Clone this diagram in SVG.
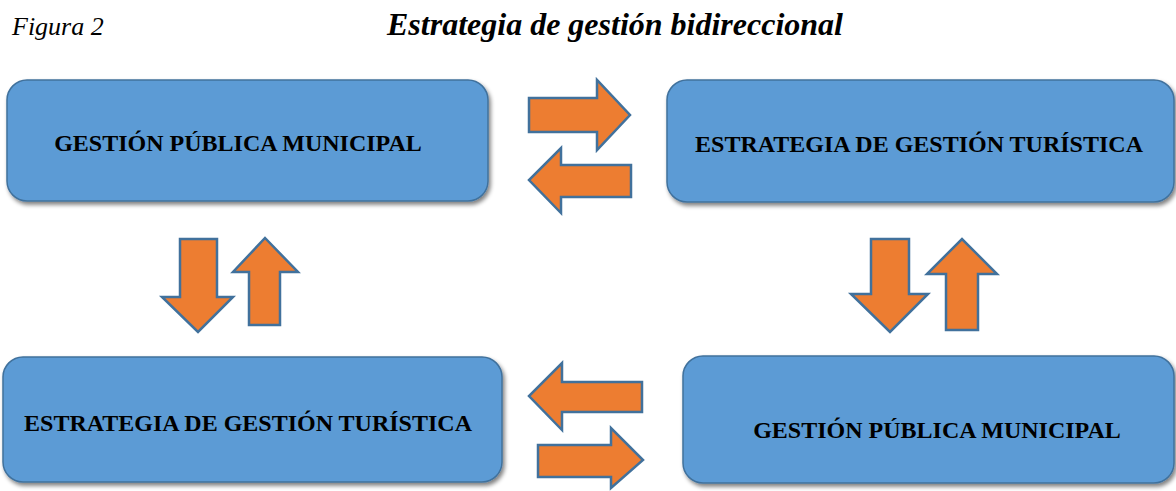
<svg xmlns="http://www.w3.org/2000/svg" width="1176" height="491" viewBox="0 0 1176 491">
<style>
.box{fill:#5b9bd5;stroke:#41719c;stroke-width:1.5;filter:url(#sh)}
.lbl{font-family:"Liberation Serif","Times New Roman",serif;font-weight:bold;font-size:24px;fill:#000;text-anchor:middle}
.arr{fill:#ed7d31;stroke:#41719c;stroke-width:2.5;stroke-linejoin:miter}
.title{font-family:"Liberation Serif","Times New Roman",serif;fill:#000}
</style>
<defs>
<filter id="sh" x="-5%" y="-10%" width="112%" height="125%">
<feGaussianBlur in="SourceAlpha" stdDeviation="2"/>
<feOffset dx="2" dy="3" result="b"/>
<feComponentTransfer><feFuncA type="linear" slope="0.5"/></feComponentTransfer>
<feMerge><feMergeNode/><feMergeNode in="SourceGraphic"/></feMerge>
</filter>
</defs>
<rect width="1176" height="491" fill="#fff"/>
<text class="title" x="12" y="35" font-style="italic" font-size="26">Figura 2</text>
<text class="title" x="387" y="35" font-style="italic" font-weight="bold" font-size="32">Estrategia de gestión bidireccional</text>

<g id="node-gpm-top">
<rect class="box" x="7" y="80" width="481" height="121" rx="20"/>
<text class="lbl" x="238" y="151">GESTIÓN PÚBLICA MUNICIPAL</text>
</g>
<g id="node-egt-top">
<rect class="box" x="667" y="80" width="507" height="122" rx="20"/>
<text class="lbl" x="919" y="152">ESTRATEGIA DE GESTIÓN TURÍSTICA</text>
</g>
<g id="node-egt-bottom">
<rect class="box" x="3" y="357" width="499" height="125" rx="20"/>
<text class="lbl" x="248" y="431">ESTRATEGIA DE GESTIÓN TURÍSTICA</text>
</g>
<g id="node-gpm-bottom">
<rect class="box" x="683" y="356" width="491" height="127" rx="20"/>
<text class="lbl" x="937" y="438">GESTIÓN PÚBLICA MUNICIPAL</text>
</g>

<g id="connectors">
<polygon class="arr" points="529,98 597,98 597,80 630,115 597,150 597,132 529,132"/>
<polygon class="arr" points="631,165 561,165 561,148 529,180 561,213 561,197 631,197"/>
<polygon class="arr" points="180,239 217,239 217,297 233,297 198,332 162,297 180,297"/>
<polygon class="arr" points="249,325 280,325 280,272 298,272 265,238 233,272 249,272"/>
<polygon class="arr" points="871,239 909,239 909,294 928,294 890,332 851,294 871,294"/>
<polygon class="arr" points="946,330 978,330 978,274 997,274 962,239 927,274 946,274"/>
<polygon class="arr" points="642,382 562,382 562,363 529,396 562,430 562,412 642,412"/>
<polygon class="arr" points="538,445 611,445 611,428 643,460 611,488 611,477 538,477"/>
</g>
</svg>
